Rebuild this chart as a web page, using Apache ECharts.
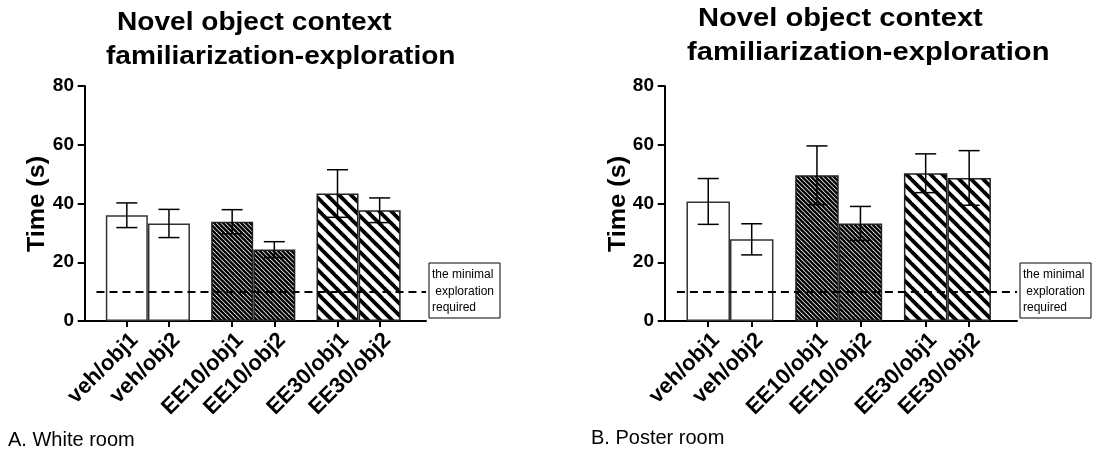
<!DOCTYPE html>
<html><head><meta charset="utf-8">
<script src="https://cdn.jsdelivr.net/npm/echarts@6/dist/echarts.min.js"></script>
<style>html,body{margin:0;padding:0;background:#fff}#c{width:1098px;height:453px}</style>
</head><body><div id="c"></div>
<script>
// ---- data ----
const categories = ['veh/obj1', 'veh/obj2', 'EE10/obj1', 'EE10/obj2', 'EE30/obj1', 'EE30/obj2'];
const groups = ['veh', 'veh', 'EE10', 'EE10', 'EE30', 'EE30'];
const whiteMeans = [36.0, 33.2, 33.8, 24.3, 43.4, 37.7];
const whiteSem = [4.2, 4.8, 4.1, 2.7, 8.1, 4.2];
const posterMeans = [40.7, 27.8, 49.6, 33.2, 50.3, 48.7];
const posterSem = [7.8, 5.3, 10.0, 5.8, 6.6, 9.3];
const yTicks = [0, 20, 40, 60, 80];
const threshold = [10];
const titleLines = ['Novel object context', 'familiarization-exploration'];
const panelLabels = ['A. White room', 'B. Poster room'];
const noteLines = ['the minimal', ' exploration', 'required'];
const yName = 'Time (s)';

// ---- layout helpers ----
const FONT = '"Liberation Sans", Arial, Helvetica, sans-serif';
const pos = i => i + 1 + 0.5 * Math.floor(i / 2);   // groups of two with a half-slot gap
const positions = categories.map((_, i) => pos(i));
function catFor(v) {
  let best = 0;
  positions.forEach((p, i) => { if (Math.abs(p - v) < Math.abs(positions[best] - v)) best = i; });
  return categories[best];
}
function hatch(period, lineW, reps) {
  const s = Math.round(period * reps);
  const c = document.createElement('canvas'); c.width = s; c.height = s;
  const g = c.getContext('2d');
  g.fillStyle = '#fff'; g.fillRect(0, 0, s, s);
  g.strokeStyle = '#000'; g.lineWidth = lineW;
  for (let k = -reps - 1; k <= reps + 1; k++) {
    g.beginPath(); g.moveTo(k * period - 3, -3); g.lineTo(k * period + s + 3, s + 3); g.stroke();
  }
  return c;
}
const fills = {
  veh: '#ffffff',
  EE10: { image: hatch(4.5, 2.4, 2), repeat: 'repeat' },
  EE30: { image: hatch(12, 3.8, 1), repeat: 'repeat' }
};
const borders = { veh: '#333', EE10: '#222', EE30: '#222' };

const grids = [
  { left: 83, top: 86, width: 343, height: 235 },
  { left: 663, top: 86, width: 354, height: 235 }
];
const barWidths = [42, 43.5];

function xAxis(g) {
  return {
    type: 'value', gridIndex: g, min: -0.04, max: 8.1,
    splitLine: { show: false },
    axisLine: { show: true, onZero: false, lineStyle: { color: '#000', width: 2 } },
    axisTick: { show: true, customValues: positions, length: 6, lineStyle: { color: '#000', width: 2 } },
    axisLabel: {
      customValues: positions, formatter: v => catFor(v), rotate: 45, margin: 8,
      verticalAlign: 'top',
      color: '#000', fontWeight: 'bold', fontSize: 22, fontFamily: FONT
    }
  };
}
function yAxis(g) {
  return {
    type: 'value', gridIndex: g, min: yTicks[0], max: yTicks[yTicks.length - 1], interval: 20,
    splitLine: { show: false },
    axisLine: { show: true, lineStyle: { color: '#000', width: 2 } },
    axisTick: { show: true, length: 7, lineStyle: { color: '#000', width: 2 } },
    axisLabel: { color: '#000', fontWeight: 'bold', fontSize: 19, fontFamily: FONT, margin: 9 }
  };
}
function barSeries(g, means) {
  return {
    type: 'bar', xAxisIndex: g, yAxisIndex: g, barWidth: barWidths[g], z: 2,
    data: means.map((v, i) => ({
      value: [pos(i), v],
      itemStyle: { color: fills[groups[i]], borderColor: borders[groups[i]], borderWidth: 1.5 }
    })),
    markLine: {
      silent: true, symbol: 'none', z: 5, label: { show: false },
      lineStyle: { color: '#000', type: [8, 5], width: 2 },
      data: [[{ coord: [0.28, threshold[0]] }, { coord: [8.1, threshold[0]] }]]
    }
  };
}
function errSeries(g, means, sem) {
  return {
    type: 'custom', xAxisIndex: g, yAxisIndex: g, z: 10,
    encode: { x: 0, y: [1, 2] },
    data: means.map((v, i) => [pos(i), v - sem[i], v + sem[i]]),
    renderItem: (p, api) => {
      const x = api.value(0);
      const lo = api.coord([x, api.value(1)]);
      const hi = api.coord([x, api.value(2)]);
      const hw = 10.5;
      const st = { stroke: '#000', lineWidth: 1.5 };
      return {
        type: 'group', children: [
          { type: 'line', shape: { x1: lo[0], y1: lo[1], x2: hi[0], y2: hi[1] }, style: st },
          { type: 'line', shape: { x1: hi[0] - hw, y1: hi[1], x2: hi[0] + hw, y2: hi[1] }, style: st },
          { type: 'line', shape: { x1: lo[0] - hw, y1: lo[1], x2: lo[0] + hw, y2: lo[1] }, style: st }
        ]
      };
    }
  };
}

function txt(x, y, text, size, weight, opts, align) {
  return Object.assign({
    type: 'text', x: x, y: y,
    style: { text: text, fill: '#000', font: (weight || 'normal') + ' ' + size + 'px ' + FONT,
             textAlign: align || 'left', textVerticalAlign: 'middle' }
  }, opts || {});
}
function noteBox(x, y) {
  return {
    type: 'group', x: x, y: y, children: [
      { type: 'rect', shape: { x: 0, y: 0, width: 71, height: 55 }, style: { fill: '#fff', stroke: '#000', lineWidth: 1 } },
      txt(3, 12, noteLines[0], 12),
      txt(3, 29, noteLines[1], 12),
      txt(3, 45, noteLines[2], 12)
    ]
  };
}

const graphic = [
  txt(117, 23, titleLines[0], 26, 'bold', { scaleX: 1.08 }),
  txt(106, 57, titleLines[1], 26, 'bold', { scaleX: 1.08 }),
  txt(698, 19, titleLines[0], 26, 'bold', { scaleX: 1.12 }),
  txt(687, 53, titleLines[1], 26, 'bold', { scaleX: 1.12 }),
  txt(37, 204, yName, 24, 'bold', { rotation: Math.PI / 2, scaleX: 1.05 }, 'center'),
  txt(618, 204, yName, 24, 'bold', { rotation: Math.PI / 2, scaleX: 1.05 }, 'center'),
  txt(8, 440, panelLabels[0], 20),
  txt(591, 438, panelLabels[1], 20),
  noteBox(429, 263),
  noteBox(1020, 263)
];

const chart = echarts.init(document.getElementById('c'), null, { renderer: 'canvas' });
chart.setOption({
  animation: false,
  backgroundColor: '#fff',
  grid: grids,
  xAxis: [xAxis(0), xAxis(1)],
  yAxis: [yAxis(0), yAxis(1)],
  series: [
    barSeries(0, whiteMeans), errSeries(0, whiteMeans, whiteSem),
    barSeries(1, posterMeans), errSeries(1, posterMeans, posterSem)
  ],
  graphic: graphic
});
</script></body></html>
